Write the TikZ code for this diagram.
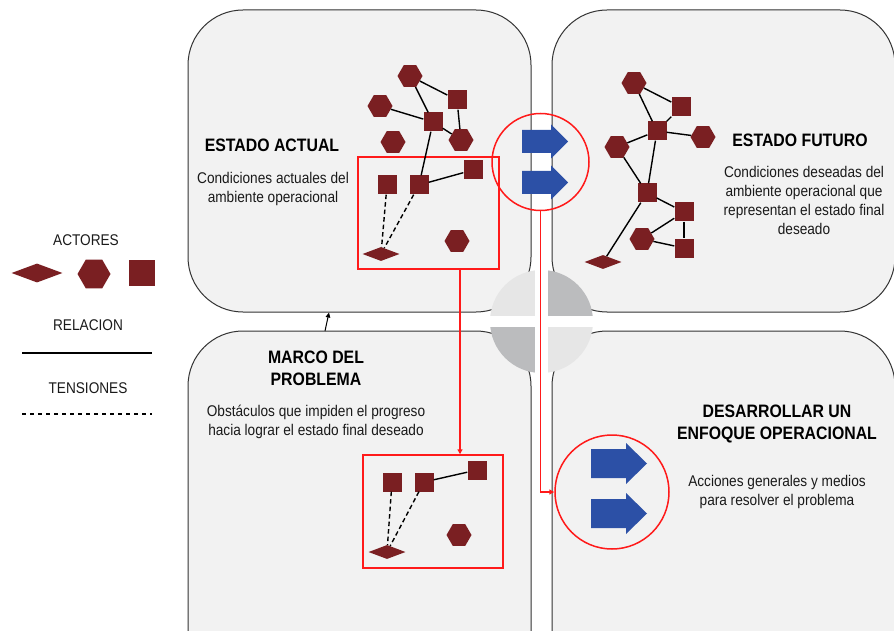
\documentclass[tikz,border=0pt]{standalone}
\usepackage{fontspec}
\setmainfont{Liberation Sans}[FakeStretch=0.88]
\usetikzlibrary{shapes.geometric,arrows.meta}
\definecolor{panelfill}{HTML}{F2F2F2}
\definecolor{actor}{HTML}{7A1F22}
\definecolor{blueA}{HTML}{2C50A6}
\definecolor{qlight}{HTML}{E6E6E6}
\definecolor{qdark}{HTML}{BBBCBE}
\definecolor{redA}{HTML}{FF1A1A}
\definecolor{txt}{HTML}{1A1A1A}
\begin{document}
\begin{tikzpicture}[x=1pt,y=-1pt,
  panel/.style={fill=panelfill, draw=black!80, line width=1pt, rounded corners=55pt},
  hexa/.style={regular polygon, regular polygon sides=6, fill=actor, inner sep=0pt, minimum size=25pt},
  sq/.style={rectangle, fill=actor, inner sep=0pt, minimum size=19pt},
  dia/.style={diamond, fill=actor, inner sep=0pt, minimum width=37pt, minimum height=14pt},
  rel/.style={draw=black, line width=1.4pt},
  ten/.style={draw=black, line width=1.4pt, dash pattern=on 4.5pt off 3pt},
  title/.style={font=\bfseries\fontsize{18}{22.5}\selectfont, align=center, inner sep=0pt, text=black},
  body/.style={font=\fontsize{15.5}{18.8}\selectfont, align=center, inner sep=0pt, text=txt},
  redframe/.style={draw=redA, line width=1.5pt, inner sep=0pt},
  redln/.style={draw=redA, line width=1.5pt},
  blockarrow/.style={fill=blueA}
]
\useasboundingbox (0,0) rectangle (894,631);
\fill[white] (0,0) rectangle (894,631);
% panels
\begin{scope}
\clip (0,0) rectangle (894,631);
\draw[panel] (188,10) rectangle (531,312);
\draw[panel] (552,10) rectangle (895,312);
\draw[panel] (188,331) rectangle (531,690);
\draw[panel] (552,331) rectangle (895,690);
\end{scope}
% center quadrant circle
\begin{scope}
\clip (541.5,321.5) circle (51.5);
\fill[qlight] (486,266) rectangle (535,316);
\fill[qdark] (548,266) rectangle (597,316);
\fill[qdark] (486,327) rectangle (535,377);
\fill[qlight] (548,327) rectangle (597,377);
\end{scope}
% legend
\node[body] (l1) at (86,240) {ACTORES};
\node[dia, minimum width=51pt, minimum height=19pt] (l2) at (37,273) {};
\node[hexa, minimum size=33pt] (l3) at (94,274) {};
\node[sq, minimum size=26pt] (l4) at (142,273) {};
\node[body] (l5) at (88,325) {RELACION};
\coordinate (r1) at (22,353);
\coordinate (r2) at (152,353);
\draw[rel] (r1) -- (r2);
\node[body] (l6) at (88,388) {TENSIONES};
\coordinate (s1) at (22,414);
\coordinate (s2) at (152,414);
\draw[ten, dash pattern=on 4pt off 4pt] (s1) -- (s2);
% texts
\node[title] (t1) at (272,145) {ESTADO ACTUAL};
\node[body] (d1) at (273,189) {Condiciones actuales del\\ambiente operacional};
\node[title] (t2) at (800,140) {ESTADO FUTURO};
\node[body] (d2) at (804,200.5) {Condiciones deseadas del\\ambiente operacional que\\representan el estado final\\deseado};
\node[title] (t3) at (316,368.5) {MARCO DEL\\PROBLEMA};
\node[body] (d3) at (316,421.5) {Obstáculos que impiden el progreso\\hacia lograr el estado final deseado};
\node[title] (t4) at (777,424) {DESARROLLAR UN\\ENFOQUE OPERACIONAL};
\node[body] (d4) at (777,492) {Acciones generales y medios\\para resolver el problema};
% red frames
\node[redframe, minimum width=141pt, minimum height=112pt] (frameA) at (428.5,213) {};
\node[redframe, minimum width=140pt, minimum height=113pt] (frameB) at (433,511.5) {};
% TL network
\node[hexa] (a1) at (410,76) {};
\node[sq] (a2) at (457,100) {};
\node[hexa] (a3) at (380,106) {};
\node[sq] (a4) at (433,122) {};
\node[hexa] (a5) at (393,142) {};
\node[hexa] (a6) at (461,140) {};
\node[sq] (a7) at (387,185) {};
\node[sq] (a8) at (419,185) {};
\node[sq] (a9) at (473,170) {};
\node[hexa] (a10) at (457,241) {};
\node[dia] (a11) at (381,254) {};
\draw[rel] (a1) -- (a2);
\draw[rel] (a1) -- (a4);
\draw[rel] (a3) -- (a4);
\draw[rel] (a4) -- (a6);
\draw[rel] (a2) -- (a6);
\draw[rel] (a4) -- (a8);
\draw[rel] (a8) -- (a9);
\draw[ten] (a7) -- (a11);
\draw[ten] (a8) -- (a11);
% TR network
\node[hexa] (b1) at (634,83) {};
\node[sq] (b2) at (681,107) {};
\node[sq] (b3) at (657,131) {};
\node[hexa] (b4) at (703,137) {};
\node[hexa] (b5) at (617,147) {};
\node[sq] (b6) at (647,193) {};
\node[sq] (b7) at (684,212) {};
\node[hexa] (b8) at (642,239) {};
\node[sq] (b9) at (684,248) {};
\node[dia] (b10) at (603,262) {};
\draw[rel] (b1) -- (b2);
\draw[rel] (b1) -- (b3);
\draw[rel] (b2) -- (b3);
\draw[rel] (b3) -- (b4);
\draw[rel] (b3) -- (b5);
\draw[rel] (b3) -- (b6);
\draw[rel] (b5) -- (b6);
\draw[rel] (b6) -- (b7);
\draw[rel] (b7) -- (b9);
\draw[rel] (b8) -- (b7);
\draw[rel] (b8) -- (b9);
\draw[rel] (b6) -- (b10);
% BL network
\node[sq] (c1) at (392,482) {};
\node[sq] (c2) at (424,482) {};
\node[sq] (c3) at (477,470) {};
\node[hexa] (c4) at (459,535) {};
\node[dia] (c5) at (387,552) {};
\draw[rel] (c2) -- (c3);
\draw[ten] (c1) -- (c5);
\draw[ten] (c2) -- (c5);
% blue arrows
\fill[blockarrow] (522,130) -- (551,130) -- (551,124.5) -- (568,141.5) -- (551,158.5) -- (551,153) -- (522,153) -- cycle;
\fill[blockarrow] (522,171) -- (551,171) -- (551,165.5) -- (568,182.5) -- (551,199.5) -- (551,194) -- (522,194) -- cycle;
\fill[blockarrow] (591,449) -- (626,449) -- (626,443) -- (647,463.5) -- (626,484) -- (626,478) -- (591,478) -- cycle;
\fill[blockarrow] (591,499) -- (626,499) -- (626,493) -- (647,513.5) -- (626,534) -- (626,528) -- (591,528) -- cycle;
% red circles
\node[circle, draw=redA, line width=1.5pt, minimum size=97pt, inner sep=0pt] (cirA) at (540.5,162) {};
\node[circle, draw=redA, line width=1.5pt, minimum size=114pt, inner sep=0pt] (cirB) at (612,492) {};
% red connectors
\coordinate (cx) at (460,0);
\draw[redln, -{Triangle[length=5pt,width=5pt]}] (frameA.south -| cx) -- (frameB.north -| cx);
\draw[redln, -{Triangle[length=5pt,width=5pt]}] (cirA.south) |- (cirB.west);
% small black arrow
\coordinate (sa1) at (325,331);
\coordinate (sa2) at (329,312.5);
\draw[black, line width=1pt, -{Triangle[length=5pt,width=4.5pt]}] (sa1) -- (sa2);
\end{tikzpicture}
\end{document}
